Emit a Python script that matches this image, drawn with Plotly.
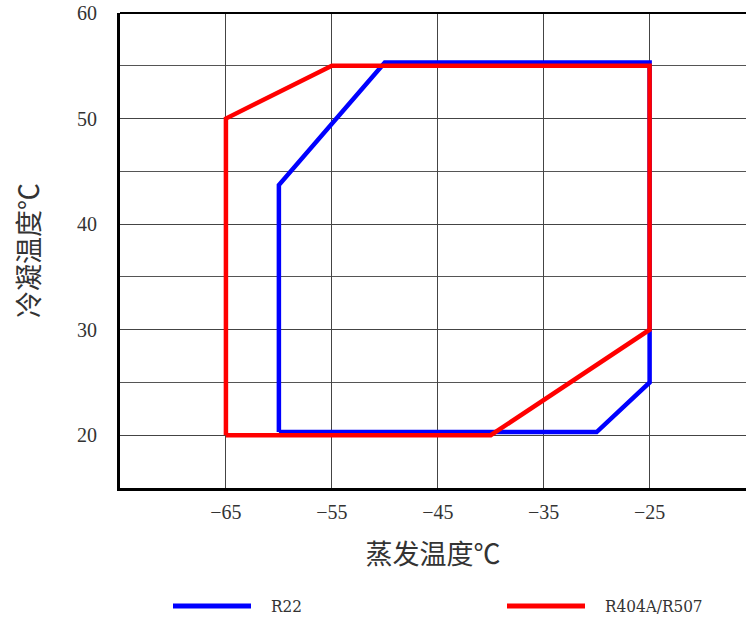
import plotly.graph_objects as go

# R22 envelope (evaporating temp °C, condensing temp °C)
r22_x = [-60, -60, -50, -25, -25, -30, -60]
r22_y = [20.3, 43.7, 55.3, 55.3, 25, 20.3, 20.3]
# R404A/R507 envelope
r404_x = [-65, -65, -55, -25, -25, -40, -65]
r404_y = [20, 50, 55, 55, 30, 20, 20]

series_names = ["R22", "R404A/R507"]
series_colors = ["#0000ff", "#ff0000"]

x_ticks = [-65, -55, -45, -35, -25]
y_ticks = [20, 30, 40, 50, 60]
x_title = "蒸发温度℃"
y_title = "冷凝温度℃"

fig = go.Figure()
fig.add_trace(go.Scatter(x=r22_x, y=r22_y, mode="lines", name=series_names[0],
                         line=dict(color=series_colors[0], width=4.5), showlegend=False))
fig.add_trace(go.Scatter(x=r404_x, y=r404_y, mode="lines", name=series_names[1],
                         line=dict(color=series_colors[1], width=4.5), showlegend=False))

num_font = dict(family="Liberation Serif", size=20, color="#333333")
cjk_font = dict(family="Noto Sans CJK SC", size=27, color="#333333")

fig.update_xaxes(
    range=[-75, -15.9], tickvals=x_ticks, ticktext=[f"\u2212{abs(v)}" for v in x_ticks],
    showgrid=True, gridcolor="#444444", gridwidth=1.2,
    showline=True, linecolor="black", linewidth=3,
    zeroline=False, ticks="", ticklabelstandoff=4, tickfont=num_font,
    title=dict(text=x_title, font=cjk_font, standoff=24),
    automargin=False,
)
fig.update_yaxes(
    range=[15, 60], tickvals=y_ticks,
    showgrid=True, gridcolor="#444444", gridwidth=1.2,
    minor=dict(tickvals=[15, 25, 35, 45, 55], showgrid=True, gridcolor="#555555", gridwidth=1.2),
    showline=True, linecolor="black", linewidth=3,
    zeroline=False, ticks="", ticklabelstandoff=16, tickfont=num_font,
    title=dict(text=y_title, font=cjk_font, standoff=30),
    automargin=False,
)

shapes = [
    dict(type="line", xref="paper", yref="paper", x0=0, x1=1, y0=1, y1=1,
         line=dict(color="black", width=2)),
]
annotations = []
legend_x0 = [173, 507]
for name, color, lx in zip(series_names, series_colors, legend_x0):
    shapes.append(dict(type="line", xref="paper", yref="paper",
                       x0=(lx - 120) / 626, x1=(lx + 78 - 120) / 626,
                       y0=-(606 - 488) / 475, y1=-(606 - 488) / 475,
                       line=dict(color=color, width=5)))
    annotations.append(dict(text=name, xref="paper", yref="paper",
                            x=(lx + 96 - 120) / 626, y=-(606 - 488) / 475,
                            xanchor="left", yanchor="middle", showarrow=False,
                            font=dict(family="DejaVu Serif Condensed", size=17, color="#333333")))

fig.update_layout(
    width=746, height=626,
    margin=dict(l=120, r=0, t=13, b=138),
    paper_bgcolor="white", plot_bgcolor="white",
    shapes=shapes, annotations=annotations,
    showlegend=False,
)

fig.write_html("out.html", config={"displayModeBar": False},
               post_script="document.body.style.margin='0';document.body.style.overflow='hidden';")
